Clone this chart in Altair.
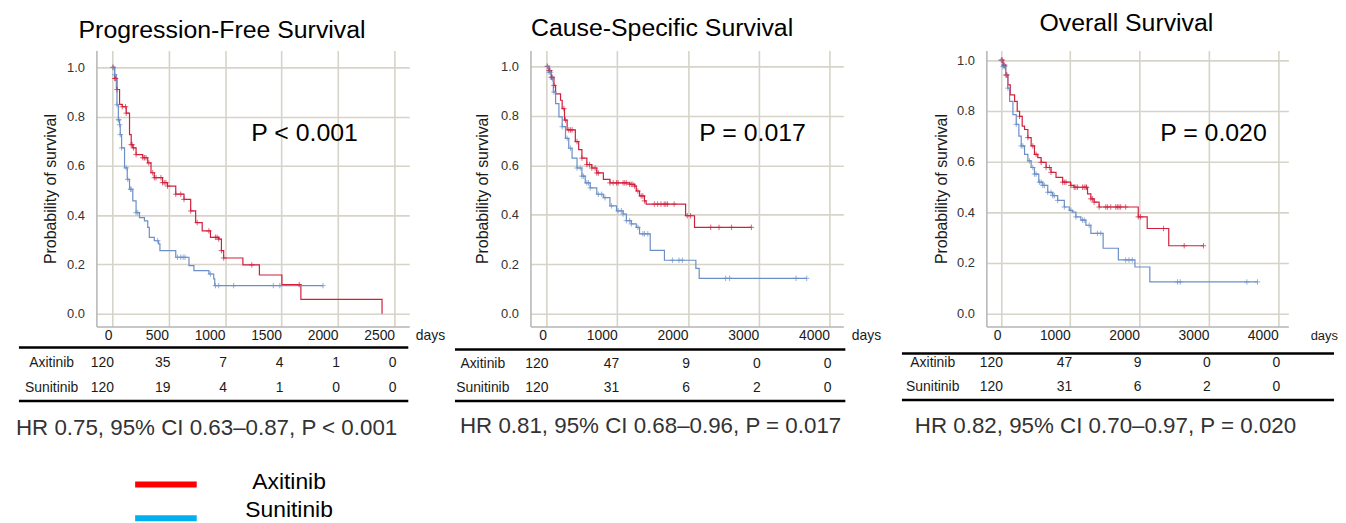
import altair as alt
import numpy as np
import pandas as pd

GROUPS = ["Axitinib", "Sunitinib"]
CURVE_COLORS = ["#d21f3c", "#6b8fc7"]
LEGEND_COLORS = ["#ff0000", "#00b0f0"]
FONT = "Liberation Sans"
GRID = "#d6d3c8"
AXIS = "#b4b4b4"
TXT = "#1a1a1a"
CROSS = "M-1,0H1M0,-1V1"

# ---------------- Progression-Free Survival ----------------
pfs_axi_t = [0, 23, 44, 67, 91, 126, 155, 170, 184, 213, 272, 316, 345, 374, 447, 491, 564, 637,
             696, 740, 798, 871, 944, 968, 988, 1158, 1304, 1503, 1671, 2389]
pfs_axi_s = [1.0, 0.955, 0.91, 0.85, 0.84, 0.814, 0.727, 0.686, 0.673, 0.646, 0.633, 0.612, 0.572,
             0.552, 0.532, 0.518, 0.485, 0.464, 0.417, 0.37, 0.336, 0.31, 0.303, 0.256, 0.226,
             0.198, 0.157, 0.118, 0.058, 0.0]
pfs_axi_c = [9, 23, 32, 44, 91, 120, 126, 170, 178, 190, 213, 272, 287, 301, 325, 360, 374, 389,
             433, 447, 462, 477, 491, 564, 608, 637, 696, 754, 857, 915, 930, 944, 968, 988, 1237, 1656]
pfs_su_t = [0, 23, 38, 44, 56, 67, 73, 85, 111, 135, 155, 184, 213, 243, 287, 316, 330, 374, 412,
            424, 564, 681, 725, 857, 900, 909, 1867]
pfs_su_s = [1.0, 0.97, 0.915, 0.848, 0.787, 0.767, 0.727, 0.673, 0.592, 0.545, 0.505, 0.458, 0.41,
            0.39, 0.377, 0.35, 0.31, 0.296, 0.283, 0.256, 0.229, 0.195, 0.175, 0.161, 0.141, 0.114, 0.114]
pfs_su_c = [9, 23, 44, 56, 61, 67, 73, 85, 126, 140, 164, 170, 213, 228, 404, 579, 608, 629, 646,
            871, 915, 944, 1076, 1427, 1485, 1867]
pfs_risk_t = [0, 500, 1000, 1500, 2000, 2500]
pfs_risk_axi = [120, 35, 7, 4, 1, 0]
pfs_risk_su = [120, 19, 4, 1, 0, 0]

# ---------------- Cause-Specific Survival ----------------
css_axi_t = [0, 37, 70, 107, 130, 200, 223, 256, 293, 409, 456, 502, 572, 642, 712, 805, 898, 1177,
             1247, 1270, 1316, 1386, 1409, 1967, 2093, 2897]
css_axi_s = [1.0, 0.983, 0.956, 0.923, 0.889, 0.863, 0.829, 0.783, 0.743, 0.696, 0.663, 0.629, 0.603,
             0.589, 0.569, 0.543, 0.529, 0.523, 0.516, 0.496, 0.476, 0.456, 0.443, 0.396, 0.349, 0.349]
css_axi_c = [14, 37, 51, 70, 84, 107, 247, 270, 316, 340, 363, 433, 502, 572, 609, 642, 688, 712, 735,
             898, 944, 991, 1014, 1084, 1107, 1130, 1177, 1200, 1223, 1247, 1293, 1340, 1363, 1386,
             1526, 1572, 1619, 1665, 1688, 1712, 1805, 1991, 2037, 2322, 2439, 2617, 2897]
css_su_t = [0, 37, 70, 98, 130, 177, 223, 270, 316, 363, 433, 502, 549, 619, 712, 805, 898, 991, 1084,
            1130, 1200, 1270, 1316, 1467, 1668, 2112, 2159, 3678]
css_su_s = [1.0, 0.976, 0.949, 0.896, 0.849, 0.796, 0.756, 0.709, 0.669, 0.629, 0.589, 0.556, 0.529,
            0.509, 0.483, 0.469, 0.436, 0.416, 0.403, 0.376, 0.363, 0.349, 0.323, 0.256, 0.216, 0.183,
            0.143, 0.143]
css_su_c = [14, 37, 60, 84, 107, 223, 293, 340, 433, 479, 502, 526, 572, 595, 619, 735, 781, 828, 921,
            1014, 1060, 1084, 1130, 1177, 1200, 1293, 1363, 1386, 1433, 1781, 1874, 1921, 2533, 2589,
            3528, 3678]
css_risk_t = [0, 1000, 2000, 3000, 4000]
css_risk_axi = [120, 47, 9, 0, 0]
css_risk_su = [120, 31, 6, 2, 0]

# ---------------- Overall Survival ----------------
os_axi_t = [0, 29, 67, 100, 134, 196, 234, 268, 306, 340, 388, 435, 483, 531, 579, 651, 722, 794, 890,
            1005, 1053, 1249, 1297, 1344, 1416, 1981, 2110, 2421, 2923]
os_axi_s = [1.0, 0.98, 0.941, 0.902, 0.863, 0.837, 0.798, 0.778, 0.739, 0.726, 0.694, 0.661, 0.628,
            0.615, 0.596, 0.576, 0.557, 0.537, 0.518, 0.505, 0.498, 0.472, 0.452, 0.439, 0.42, 0.381,
            0.335, 0.267, 0.267]
os_axi_c = [5, 19, 38, 53, 77, 86, 268, 388, 459, 507, 579, 651, 699, 722, 890, 914, 938, 1010, 1057,
            1081, 1105, 1177, 1201, 1225, 1234, 1297, 1321, 1344, 1416, 1512, 1536, 1584, 1656, 1679,
            1703, 1727, 1799, 1981, 2014, 2346, 2644, 2923]
os_su_t = [0, 29, 67, 96, 124, 172, 220, 258, 292, 340, 388, 435, 483, 545, 603, 675, 746, 818, 914,
           986, 1033, 1081, 1153, 1225, 1297, 1474, 1694, 1933, 2148, 3702]
os_su_s = [1.0, 0.974, 0.941, 0.889, 0.837, 0.785, 0.746, 0.7, 0.661, 0.628, 0.602, 0.576, 0.55, 0.518,
           0.505, 0.478, 0.465, 0.446, 0.42, 0.407, 0.4, 0.381, 0.368, 0.348, 0.316, 0.257, 0.211,
           0.183, 0.124, 0.124]
os_su_c = [5, 29, 53, 67, 100, 220, 292, 316, 411, 459, 483, 507, 555, 579, 603, 627, 675, 722, 746,
           770, 818, 914, 1010, 1081, 1177, 1201, 1273, 1392, 1440, 1799, 1847, 1895, 2548, 2587, 3548, 3702]
os_risk_t = [0, 1000, 2000, 3000, 4000]
os_risk_axi = [120, 47, 9, 0, 0]
os_risk_su = [120, 31, 6, 2, 0]

TITLES = ["Progression-Free Survival", "Cause-Specific Survival", "Overall Survival"]
PTEXTS = ["P < 0.001", "P = 0.017", "P = 0.020"]
HRTEXTS = ["HR 0.75, 95% CI 0.63\u20130.87, P < 0.001",
           "HR 0.81, 95% CI 0.68\u20130.96, P = 0.017",
           "HR 0.82, 95% CI 0.70\u20130.97, P = 0.020"]
Y_TICKS = [0.0, 0.2, 0.4, 0.6, 0.8, 1.0]

H = 278


def curve_df(t_a, s_a, t_s, s_s):
    return pd.concat([
        pd.DataFrame({"t": t_a, "s": s_a, "group": GROUPS[0]}),
        pd.DataFrame({"t": t_s, "s": s_s, "group": GROUPS[1]}),
    ], ignore_index=True)


def censor_df(t, s, cens, group):
    t = np.asarray(t)
    s = np.asarray(s)
    idx = np.searchsorted(t, cens, side="right") - 1
    return pd.DataFrame({"t": cens, "s": s[idx], "group": group})


def one(label):
    return pd.DataFrame({"label": [label]})


def make_panel(cfg):
    W = cfg["W"]
    curves = curve_df(cfg["ta"], cfg["sa"], cfg["ts"], cfg["ss"])
    cens = pd.concat([censor_df(cfg["ta"], cfg["sa"], cfg["ca"], GROUPS[0]),
                      censor_df(cfg["ts"], cfg["ss"], cfg["cs"], GROUPS[1])], ignore_index=True)
    rt = cfg["rt"]

    xscale = alt.Scale(domain=cfg["xdom"], nice=False, zero=False)
    yscale = alt.Scale(domain=cfg["ydom"], nice=False, zero=False)
    stroke = alt.Stroke("group:N", scale=alt.Scale(domain=GROUPS, range=CURVE_COLORS), legend=None)

    xaxis = alt.Axis(values=rt, format="d", grid=True, gridColor=GRID, gridWidth=1.6,
                     domainColor=AXIS, domainWidth=1.5, ticks=False, labelAlign="right",
                     labelBaseline="middle", labelPadding=9, labelFontSize=14, labelColor=TXT,
                     labelFont=FONT, labelFlush=False, labelOverlap=False,
                     title="days", titleX=W + cfg["days_dx"], titleY=9, titleAlign="left",
                     titleBaseline="middle", titleFontSize=cfg["days_fs"], titleFontWeight="normal",
                     titleColor=TXT, titleFont=FONT)
    yaxis = alt.Axis(values=Y_TICKS, format=".1f", grid=True, gridColor=GRID, gridWidth=1.6,
                     domainColor=AXIS, domainWidth=1.5, ticks=False, labelPadding=12,
                     labelFontSize=13, labelColor="#333333", labelFont=FONT, labelFlush=False,
                     labelOverlap=False, title="Probability of survival", titleX=cfg["ytx"],
                     titleY=H / 2, titleAngle=270, titleAlign="center", titleBaseline="middle",
                     titleFontSize=16, titleFontWeight="normal", titleColor=TXT, titleFont=FONT)

    X = alt.X("t:Q", scale=xscale, axis=xaxis)
    Y = alt.Y("s:Q", scale=yscale, axis=yaxis)

    lines = alt.Chart(curves).mark_line(interpolate="step-after", strokeWidth=1.2).encode(
        x=X, y=Y, stroke=stroke)
    marks = alt.Chart(cens).mark_point(shape=CROSS, filled=False, size=30, strokeWidth=1).encode(
        x=X, y=Y, stroke=stroke)

    layers = [lines, marks]

    # number-at-risk rows
    for name, counts, dy in [(GROUPS[0], cfg["ra"], cfg["row1"]), (GROUPS[1], cfg["rs"], cfg["row2"])]:
        row_df = pd.DataFrame({"t": rt, "n": counts})
        layers.append(alt.Chart(row_df).mark_text(
            align="right", baseline="middle", fontSize=14, font=FONT, color=TXT, dx=2).encode(
            x=X, y=alt.value(H + dy), text=alt.Text("n:Q", format="d")))
        layers.append(alt.Chart(one(name)).mark_text(
            align="center", baseline="middle", fontSize=14, font=FONT, color=TXT).encode(
            x=alt.value(cfg["labx"]), y=alt.value(H + dy), text="label:N"))

    for key in ["ltop", "lbot"]:
        layers.append(alt.Chart(one(key)).mark_rule(color="black", strokeWidth=2.5).encode(
            x=alt.value(cfg["lx0"]), x2=alt.value(W + cfg["lx1"]), y=alt.value(H + cfg[key])))

    layers.append(alt.Chart(one(cfg["ptext"])).mark_text(
        align="left", baseline="middle", fontSize=25, font=FONT, color="black").encode(
        x=alt.value(cfg["px"]), y=alt.value(cfg["py"]), text="label:N"))
    layers.append(alt.Chart(one(cfg["hr"])).mark_text(
        align="left", baseline="middle", fontSize=22.5, font=FONT, color="#333333").encode(
        x=alt.value(cfg["hrx"]), y=alt.value(cfg["hry"]), text="label:N"))

    if cfg.get("legend"):
        for name, col, ly, ty in [(GROUPS[0], LEGEND_COLORS[0], 437, 435),
                                  (GROUPS[1], LEGEND_COLORS[1], 471, 463)]:
            layers.append(alt.Chart(one(name)).mark_rule(strokeWidth=6, color=col).encode(
                x=alt.value(39), x2=alt.value(101), y=alt.value(ly)))
            layers.append(alt.Chart(one(name)).mark_text(
                align="center", baseline="middle", fontSize=23, font=FONT, color="black").encode(
                x=alt.value(194), y=alt.value(ty), text="label:N"))

    return alt.layer(*layers).properties(
        width=W, height=H,
        title=alt.TitleParams(cfg["title"], fontSize=25, fontWeight="normal", font=FONT,
                              color="black", anchor="middle", dx=cfg["tdx"], offset=cfg["toff"],
                              baseline="alphabetic"))


p1 = make_panel(dict(W=315, ta=pfs_axi_t, sa=pfs_axi_s, ca=pfs_axi_c, ts=pfs_su_t, ss=pfs_su_s,
                     cs=pfs_su_c, rt=pfs_risk_t, ra=pfs_risk_axi, rs=pfs_risk_su,
                     xdom=[-138, 2630], ydom=[-0.0524, 1.0685], row1=37, row2=62, labx=-45,
                     lx0=-78, lx1=-1, ltop=21, lbot=75, days_dx=6, days_fs=14, ytx=-46,
                     ptext=PTEXTS[0], px=156, py=83, hr=HRTEXTS[0], hrx=-81, hry=380,
                     title=TITLES[0], tdx=-31, toff=-12, legend=True))
p2 = make_panel(dict(W=315, ta=css_axi_t, sa=css_axi_s, ca=css_axi_c, ts=css_su_t, ss=css_su_s,
                     cs=css_su_c, rt=css_risk_t, ra=css_risk_axi, rs=css_risk_su,
                     xdom=[-225, 4196], ydom=[-0.0522, 1.0643], row1=38, row2=62, labx=-48,
                     lx0=-76, lx1=2, ltop=23, lbot=75, days_dx=8, days_fs=14, ytx=-48,
                     ptext=PTEXTS[1], px=170, py=83, hr=HRTEXTS[1], hrx=-71, hry=378,
                     title=TITLES[1], tdx=-25, toff=-10))
p3 = make_panel(dict(W=304, ta=os_axi_t, sa=os_axi_s, ca=os_axi_c, ts=os_su_t, ss=os_su_s,
                     cs=os_su_c, rt=os_risk_t, ra=os_risk_axi, rs=os_risk_su,
                     xdom=[-211, 4147], ydom=[-0.0522, 1.038], row1=37, row2=61, labx=-54,
                     lx0=-85, lx1=46, ltop=27, lbot=74, days_dx=22, days_fs=13, ytx=-45,
                     ptext=PTEXTS[2], px=175, py=83, hr=HRTEXTS[2], hrx=-72, hry=378,
                     title=TITLES[2], tdx=-11, toff=-5))


def spacer(w):
    return alt.Chart(one("")).mark_point(opacity=0).encode(
        x=alt.value(0), y=alt.value(0)).properties(width=w, height=H)


chart = alt.hconcat(p1, spacer(122), p2, spacer(144), p3, spacing=0, bounds="flush",
                    padding={"left": 7, "top": 0, "right": 0, "bottom": 0}
                    ).configure(font=FONT).configure_view(stroke="transparent")

chart.save("out.html", embed_options={"renderer": "svg", "actions": False})
